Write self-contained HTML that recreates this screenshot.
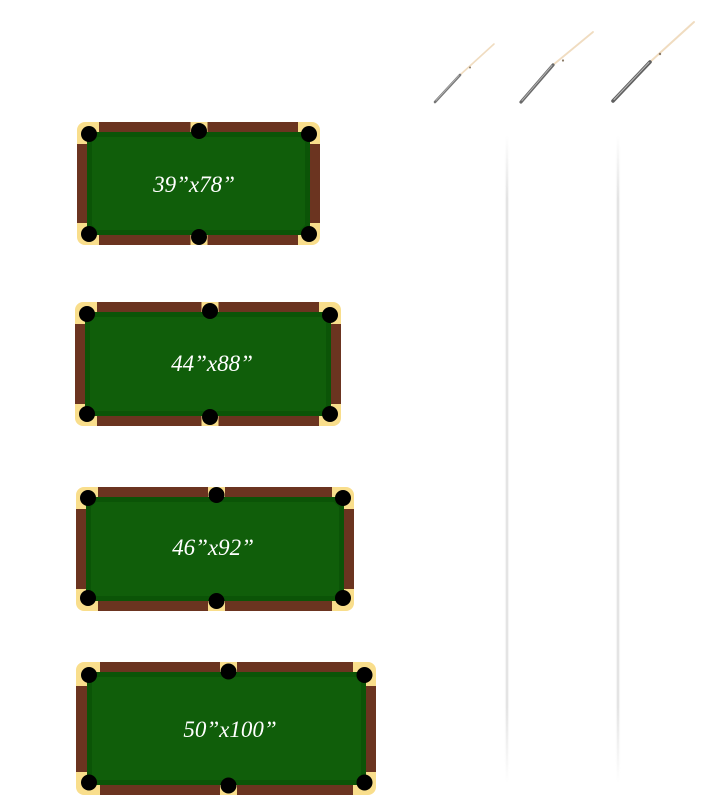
<!DOCTYPE html>
<html>
<head>
<meta charset="utf-8">
<style>
  html,body{margin:0;padding:0;background:#fff;}
  body{width:703px;height:796px;overflow:hidden;}
  svg{display:block;}
  text{font-family:"Liberation Serif",serif;font-style:italic;fill:#fff;}
</style>
</head>
<body>
<svg width="703" height="796" viewBox="0 0 703 796" xmlns="http://www.w3.org/2000/svg">
  <defs>
    <linearGradient id="vline" x1="0" y1="0" x2="1" y2="0">
      <stop offset="0" stop-color="#fff" stop-opacity="0"/>
      <stop offset="0.5" stop-color="#d8d8d8" stop-opacity="1"/>
      <stop offset="1" stop-color="#fff" stop-opacity="0"/>
    </linearGradient>
    <linearGradient id="vfade" x1="0" y1="0" x2="0" y2="1">
      <stop offset="0" stop-color="#fff" stop-opacity="0"/>
      <stop offset="0.1" stop-color="#fff" stop-opacity="1"/>
      <stop offset="0.88" stop-color="#fff" stop-opacity="1"/>
      <stop offset="1" stop-color="#fff" stop-opacity="0"/>
    </linearGradient>
    <mask id="m1" maskUnits="userSpaceOnUse" x="0" y="130" width="703" height="660">
      <rect x="0" y="135" width="703" height="648" fill="url(#vfade)"/>
    </mask>
  </defs>

  <!-- faint vertical lines -->
  <g mask="url(#m1)">
    <rect x="504" y="135" width="6" height="648" fill="url(#vline)"/>
    <rect x="615" y="135" width="6" height="648" fill="url(#vline)"/>
  </g>

  <!-- cues -->
  <g stroke-linecap="round">
    <line x1="460" y1="75" x2="494" y2="44" stroke="#f0dcc0" stroke-width="1.6"/>
    <line x1="435" y1="102" x2="460" y2="75" stroke="#777" stroke-width="2.6"/>
    <line x1="436" y1="100.5" x2="459" y2="75.5" stroke="#bbb" stroke-width="0.8"/>
    <circle cx="470" cy="67.5" r="1" fill="#8a7a66"/>

    <line x1="553" y1="65" x2="593" y2="32" stroke="#f0dcc0" stroke-width="1.8"/>
    <line x1="521" y1="102" x2="553" y2="65" stroke="#6a6a6a" stroke-width="3.2"/>
    <line x1="522" y1="100.5" x2="552" y2="65.5" stroke="#bbb" stroke-width="0.9"/>
    <circle cx="563" cy="60.5" r="1.1" fill="#8a7a66"/>

    <line x1="650" y1="62" x2="694" y2="22" stroke="#f0dcc0" stroke-width="2"/>
    <line x1="613" y1="101" x2="650" y2="62" stroke="#606060" stroke-width="3.6"/>
    <line x1="614" y1="99.5" x2="649" y2="62.5" stroke="#bbb" stroke-width="1"/>
    <circle cx="660" cy="54" r="1.2" fill="#8a7a66"/>
  </g>

  <!-- Table 1 -->
  <g>
    <rect x="77" y="122" width="243" height="123" rx="8" fill="#f9de8c"/>
    <rect x="99" y="122" width="91.5" height="10" fill="#6b3420"/>
    <rect x="207.5" y="122" width="90.5" height="10" fill="#6b3420"/>
    <rect x="99" y="235" width="91.5" height="10" fill="#6b3420"/>
    <rect x="207.5" y="235" width="90.5" height="10" fill="#6b3420"/>
    <rect x="77" y="144" width="10" height="79" fill="#6b3420"/>
    <rect x="310" y="144" width="10" height="79" fill="#6b3420"/>
    <rect x="87" y="132" width="223" height="103" fill="#0b5407"/>
    <polygon points="97,137 300,137 305,142 305,225 300,230 97,230 92,225 92,142" fill="#105e0a"/>
    <circle cx="89" cy="134" r="8" fill="#000"/>
    <circle cx="199" cy="131" r="8" fill="#000"/>
    <circle cx="309" cy="134" r="8" fill="#000"/>
    <circle cx="89" cy="234" r="8" fill="#000"/>
    <circle cx="199" cy="237" r="8" fill="#000"/>
    <circle cx="309" cy="234" r="8" fill="#000"/>
    <text x="194" y="192" font-size="23" text-anchor="middle">39”x78”</text>
  </g>

  <!-- Table 2 -->
  <g>
    <rect x="75" y="302" width="266" height="124" rx="8" fill="#f9de8c"/>
    <rect x="97" y="302" width="104.5" height="10" fill="#6b3420"/>
    <rect x="218.5" y="302" width="100.5" height="10" fill="#6b3420"/>
    <rect x="97" y="416" width="104.5" height="10" fill="#6b3420"/>
    <rect x="218.5" y="416" width="100.5" height="10" fill="#6b3420"/>
    <rect x="75" y="324" width="10" height="80" fill="#6b3420"/>
    <rect x="331" y="324" width="10" height="80" fill="#6b3420"/>
    <rect x="85" y="312" width="246" height="104" fill="#0b5407"/>
    <polygon points="95,317 321,317 326,322 326,406 321,411 95,411 90,406 90,322" fill="#105e0a"/>
    <circle cx="87" cy="314" r="8" fill="#000"/>
    <circle cx="210" cy="311" r="8" fill="#000"/>
    <circle cx="330" cy="315" r="8" fill="#000"/>
    <circle cx="87" cy="414" r="8" fill="#000"/>
    <circle cx="210" cy="417" r="8" fill="#000"/>
    <circle cx="330" cy="414" r="8" fill="#000"/>
    <text x="212" y="371" font-size="23" text-anchor="middle">44”x88”</text>
  </g>

  <!-- Table 3 -->
  <g>
    <rect x="76" y="487" width="278" height="124" rx="8" fill="#f9de8c"/>
    <rect x="98" y="487" width="110" height="10" fill="#6b3420"/>
    <rect x="225" y="487" width="107" height="10" fill="#6b3420"/>
    <rect x="98" y="601" width="110" height="10" fill="#6b3420"/>
    <rect x="225" y="601" width="107" height="10" fill="#6b3420"/>
    <rect x="76" y="509" width="10" height="80" fill="#6b3420"/>
    <rect x="344" y="509" width="10" height="80" fill="#6b3420"/>
    <rect x="86" y="497" width="258" height="104" fill="#0b5407"/>
    <polygon points="96,502 334,502 339,507 339,591 334,596 96,596 91,591 91,507" fill="#105e0a"/>
    <circle cx="88" cy="498" r="8" fill="#000"/>
    <circle cx="216.5" cy="495" r="8" fill="#000"/>
    <circle cx="343" cy="498" r="8" fill="#000"/>
    <circle cx="88" cy="598" r="8" fill="#000"/>
    <circle cx="216.5" cy="601" r="8" fill="#000"/>
    <circle cx="343" cy="598" r="8" fill="#000"/>
    <text x="213" y="555" font-size="23" text-anchor="middle">46”x92”</text>
  </g>

  <!-- Table 4 -->
  <g>
    <rect x="76" y="662" width="300" height="133" rx="8" fill="#f9de8c"/>
    <rect x="100" y="662" width="120" height="10" fill="#6b3420"/>
    <rect x="237" y="662" width="116" height="10" fill="#6b3420"/>
    <rect x="100" y="785" width="120" height="10" fill="#6b3420"/>
    <rect x="237" y="785" width="116" height="10" fill="#6b3420"/>
    <rect x="76" y="686" width="11" height="86" fill="#6b3420"/>
    <rect x="366" y="686" width="10" height="86" fill="#6b3420"/>
    <rect x="87" y="672" width="279" height="113" fill="#0b5407"/>
    <polygon points="97,677 356,677 361,682 361,775 356,780 97,780 92,775 92,682" fill="#105e0a"/>
    <circle cx="89" cy="675" r="8" fill="#000"/>
    <circle cx="228.5" cy="671.5" r="8" fill="#000"/>
    <circle cx="364.5" cy="675" r="8" fill="#000"/>
    <circle cx="89" cy="782.5" r="8" fill="#000"/>
    <circle cx="228.5" cy="785.5" r="8" fill="#000"/>
    <circle cx="364.5" cy="782.5" r="8" fill="#000"/>
    <text x="230" y="737" font-size="23" text-anchor="middle">50”x100”</text>
  </g>
</svg>
</body>
</html>
